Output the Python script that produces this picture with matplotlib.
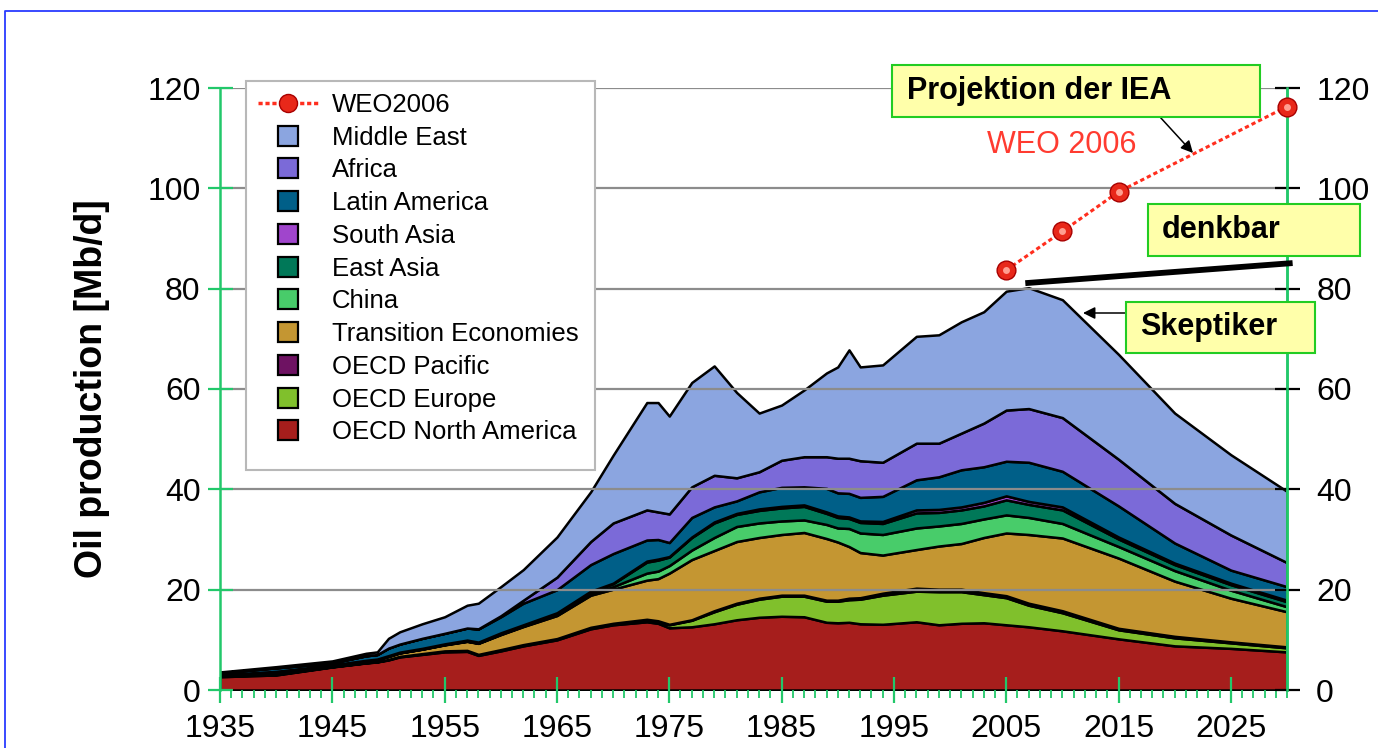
import matplotlib
matplotlib.use("Agg")
import matplotlib.pyplot as plt
from matplotlib.lines import Line2D
from matplotlib.patches import Rectangle
from matplotlib.ticker import MultipleLocator

plt.rcParams['font.family'] = ['Liberation Sans', 'DejaVu Sans']

# ---------------- data (Mb/d) ----------------
years = [1935, 1940, 1945, 1948, 1949, 1950, 1951, 1953, 1955, 1957, 1958, 1960,
         1962, 1965, 1968, 1970, 1973, 1974, 1975, 1977, 1979, 1981, 1983, 1985,
         1987, 1989, 1990, 1991, 1992, 1994, 1997, 1999, 2001, 2003, 2005, 2007,
         2010, 2015, 2020, 2025, 2030]

oecd_north_america = [2.65, 3.0, 4.6, 5.4, 5.6, 6.0, 6.6, 7.1, 7.6, 7.7, 6.9, 7.8,
                      8.8, 10.0, 12.2, 13.0, 13.6, 13.3, 12.4, 12.6, 13.2, 14.0, 14.5, 14.7,
                      14.6, 13.5, 13.4, 13.5, 13.2, 13.1, 13.6, 13.0, 13.3, 13.4, 13.0, 12.6,
                      11.8, 10.2, 8.8, 8.3, 7.6]
oecd_europe = [0.1, 0.1, 0.05, 0.05, 0.05, 0.1, 0.1, 0.1, 0.15, 0.15, 0.15, 0.2,
               0.2, 0.2, 0.2, 0.2, 0.4, 0.4, 0.6, 1.3, 2.4, 3.1, 3.6, 4.0,
               4.1, 4.2, 4.3, 4.5, 4.9, 5.8, 6.1, 6.6, 6.3, 5.6, 5.4, 4.3,
               3.6, 1.8, 1.6, 1.1, 0.8]
oecd_pacific = [0.05, 0.05, 0.0, 0.0, 0.0, 0.0, 0.0, 0.05, 0.05, 0.05, 0.05, 0.05,
                0.05, 0.05, 0.1, 0.1, 0.1, 0.1, 0.1, 0.1, 0.2, 0.2, 0.2, 0.2,
                0.2, 0.2, 0.2, 0.3, 0.3, 0.4, 0.6, 0.5, 0.5, 0.4, 0.4, 0.4,
                0.4, 0.3, 0.3, 0.2, 0.2]
transition_economies = [0.2, 0.5, 0.3, 0.4, 0.45, 0.6, 0.7, 0.9, 1.2, 1.8, 2.2, 3.0,
                        3.6, 4.6, 6.4, 6.8, 7.8, 8.4, 10.2, 12.0, 12.0, 12.3, 12.1, 12.1,
                        12.5, 12.3, 11.6, 10.3, 9.0, 7.6, 7.7, 8.6, 9.1, 11.0, 12.5, 13.7,
                        14.5, 14.0, 11.0, 8.7, 7.0]
china = [0.0, 0.0, 0.0, 0.0, 0.0, 0.0, 0.0, 0.0, 0.05, 0.05, 0.05, 0.1,
         0.1, 0.15, 0.3, 0.5, 1.4, 1.5, 1.5, 1.9, 2.6, 3.0, 2.9, 2.7,
         2.5, 2.8, 2.8, 3.6, 3.9, 4.1, 4.3, 4.0, 4.0, 3.7, 3.6, 3.4,
         2.9, 2.3, 2.1, 1.6, 1.0]
east_asia = [0.05, 0.05, 0.05, 0.05, 0.05, 0.1, 0.1, 0.1, 0.1, 0.15, 0.15, 0.2,
             0.2, 0.3, 0.4, 0.6, 2.2, 2.2, 1.7, 2.5, 2.9, 2.4, 2.5, 2.6,
             2.7, 2.2, 2.1, 2.0, 2.1, 2.2, 3.0, 2.7, 2.7, 2.6, 3.0, 2.6,
             2.7, 1.5, 1.2, 1.1, 1.0]
south_asia = [0.0, 0.02, 0.02, 0.02, 0.02, 0.05, 0.05, 0.05, 0.05, 0.05, 0.05, 0.05,
              0.05, 0.1, 0.1, 0.1, 0.2, 0.2, 0.1, 0.1, 0.2, 0.2, 0.3, 0.3,
              0.3, 0.3, 0.3, 0.3, 0.3, 0.4, 0.6, 0.6, 0.6, 0.7, 0.8, 0.6,
              0.6, 0.4, 0.3, 0.3, 0.3]
latin_america = [0.4, 0.7, 0.4, 0.9, 0.9, 1.5, 1.6, 2.0, 2.1, 2.4, 2.6, 3.2,
                 4.3, 4.6, 5.3, 5.9, 4.2, 3.9, 2.8, 3.9, 3.0, 2.5, 3.4, 3.8,
                 3.6, 4.7, 4.6, 4.7, 4.7, 5.0, 6.0, 6.5, 7.4, 7.1, 6.9, 7.8,
                 7.1, 6.2, 4.0, 2.6, 2.7]
africa = [0.0, 0.0, 0.0, 0.0, 0.0, 0.0, 0.0, 0.0, 0.0, 0.0, 0.05, 0.2,
          0.6, 2.5, 4.6, 6.1, 6.0, 5.5, 5.7, 6.1, 6.3, 4.6, 4.0, 5.4,
          6.0, 6.3, 6.9, 7.0, 7.3, 6.8, 7.3, 6.7, 7.3, 8.7, 10.2, 10.7,
          10.7, 9.3, 7.9, 7.0, 4.8]
middle_east = [0.15, 0.23, 0.38, 0.5, 0.53, 1.95, 2.45, 2.9, 3.3, 4.55, 5.1, 5.8,
               6.1, 8.0, 9.9, 13.5, 21.4, 21.8, 19.5, 20.8, 21.8, 17.0, 11.7, 11.0,
               13.3, 16.7, 18.2, 21.6, 18.7, 19.4, 21.3, 21.6, 22.2, 22.2, 23.7, 24.1,
               23.5, 20.9, 18.0, 16.0, 14.2]

weo_years = [2005, 2010, 2015, 2030]
weo_values = [83.7, 91.4, 99.3, 116.3]

denkbar_years = [2006.7, 2030.5]
denkbar_values = [81.1, 85.1]

region_labels = ['Middle East', 'Africa', 'Latin America', 'South Asia', 'East Asia',
                 'China', 'Transition Economies', 'OECD Pacific', 'OECD Europe',
                 'OECD North America']
region_colors = ['#8ba5e0', '#7b6ad8', '#005f88', '#a045cc', '#007858',
                 '#48cc6a', '#c49632', '#6e1262', '#80c02c', '#a61e1c']

# ---------------- figure ----------------
W, H = 1378, 748
fig = plt.figure(figsize=(W / 100, H / 100), dpi=100)
fig.patch.set_facecolor('white')


def fx(x):
    return x / W


def fy(y):
    return 1 - y / H


ax = fig.add_axes([fx(220), fy(690), (1287 - 220) / W, (690 - 88) / H])

stack = [oecd_north_america, oecd_europe, oecd_pacific, transition_economies, china,
         east_asia, south_asia, latin_america, africa, middle_east]
ax.stackplot(years, *stack, colors=region_colors[::-1], edgecolor='black',
             linewidth=1.8)

ax.set_xlim(1935, 2030)
ax.set_ylim(0, 120)
ax.set_xticks(list(range(1935, 2026, 10)))
ax.xaxis.set_minor_locator(MultipleLocator(1))
ax.set_yticks(list(range(0, 121, 20)))
ax.set_axisbelow(False)
ax.grid(axis='y', color='#8c8c8c', linewidth=1.6)
ax.yaxis.get_gridlines()[0].set_visible(False)

green = '#22c86a'
for s in ['top', 'bottom']:
    ax.spines[s].set_visible(False)
for s in ['left', 'right']:
    ax.spines[s].set_color(green)
    ax.spines[s].set_linewidth(1.8)

ax.tick_params(axis='y', which='major', direction='inout', length=18, width=1.6,
               color=green, labelsize=23, pad=5)
ax.tick_params(axis='x', which='major', direction='inout', length=19, width=1.6,
               color=green, labelsize=23, pad=8)
ax.tick_params(axis='x', which='minor', direction='out', length=6, width=1.3,
               color=green)

ax.set_ylabel('Oil production [Mb/d]', fontsize=27, fontweight='bold', va='center')
ax.yaxis.set_label_coords((92 - 220) / 1067, 0.5)

ax2 = ax.twinx()
ax2.set_ylim(0, 120)
ax2.set_yticks(list(range(0, 121, 20)))
ax2.tick_params(axis='y', direction='inout', length=18, width=1.6, color='black',
                labelsize=23, pad=12)
for s in ['top', 'bottom', 'left']:
    ax2.spines[s].set_visible(False)
ax2.spines['right'].set_color(green)
ax2.spines['right'].set_linewidth(1.8)

# WEO projection and "denkbar" line
red = '#ff2e1e'
ax2.plot(weo_years, weo_values, color=red, lw=2.2, ls=(0, (1.4, 1.0)),
         zorder=6, clip_on=False)
ax2.plot(weo_years, weo_values, ls='none', marker='o', ms=13.5, mfc='#e8281a',
         mec='#a80000', mew=1.0, zorder=7, clip_on=False)
ax2.plot(weo_years, weo_values, ls='none', marker='o', ms=5, mfc='#ff9e90',
         mec='none', zorder=8, clip_on=False)
ax2.plot(denkbar_years, denkbar_values, color='black', lw=4.2,
         solid_capstyle='butt', zorder=6, clip_on=False)

# ---------------- legend ----------------
fig.add_artist(Rectangle((fx(246), fy(470)), 349 / W, 389 / H,
                         transform=fig.transFigure, facecolor='white',
                         edgecolor='#b8b8b8', linewidth=1.5, zorder=5))
handles = [Line2D([], [], color=red, lw=2.5, ls=(0, (1.2, 0.8)), marker='o', ms=13,
                  mfc='#e8281a', mec='#a80000', mew=1.0)]
handles += [Line2D([], [], ls='none', marker='s', ms=15, mfc=c, mec='black', mew=1.6)
            for c in region_colors]
leg = fig.legend(handles, ['WEO2006'] + region_labels, loc='upper left',
                 bbox_to_anchor=(fx(258), fy(93)), frameon=False, fontsize=18.5,
                 handlelength=2.33, handletextpad=0.55, labelspacing=0.34,
                 borderpad=0, borderaxespad=0, numpoints=1)
leg.set_zorder(6)

# ---------------- annotations ----------------
box_fc = '#ffffaa'
box_ec = '#22cc22'
boxes = [((892, 65, 1260, 117), 'Projektion der IEA', 907),
         ((1148, 204, 1360, 256), 'denkbar', 1162),
         ((1126, 302, 1315, 353), 'Skeptiker', 1140)]
for (x0, y0, x1, y1), txt, tx in boxes:
    fig.add_artist(Rectangle((fx(x0), fy(y1)), (x1 - x0) / W, (y1 - y0) / H,
                             transform=fig.transFigure, facecolor=box_fc,
                             edgecolor=box_ec, linewidth=1.5, zorder=5))
    fig.text(fx(tx), fy((y0 + y1) / 2), txt, fontsize=22, fontweight='bold',
             ha='left', va='center', color='black', zorder=6)

fig.text(fx(987), fy(145), 'WEO 2006', fontsize=22, color='#ff3b30',
         ha='left', va='center', zorder=6)

arrow = dict(arrowstyle='-|>', color='black', lw=1.1, mutation_scale=18,
             shrinkA=0, shrinkB=0)
ax.annotate('', xy=(1193, H - 153), xycoords='figure pixels',
            xytext=(1160, H - 117), textcoords='figure pixels',
            arrowprops=arrow, annotation_clip=False)
ax.annotate('', xy=(1083, H - 313), xycoords='figure pixels',
            xytext=(1126, H - 313), textcoords='figure pixels',
            arrowprops=arrow, annotation_clip=False)

# blue frame
fig.add_artist(Line2D([fx(5), fx(5), 1.0], [0.0, fy(11), fy(11)],
                      transform=fig.transFigure, color='#2a3cff', lw=1.3))

fig.savefig('out.png', dpi=100)
